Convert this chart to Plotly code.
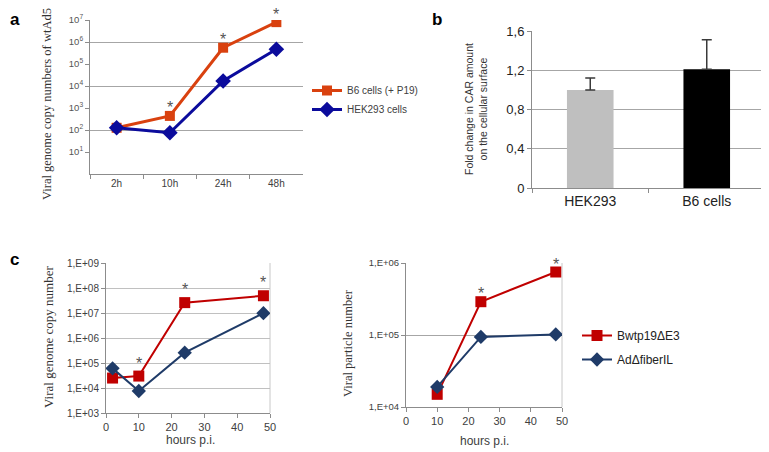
import math
import plotly.graph_objects as go

# ---------------- data ----------------
# panel a
a_times = ["2h", "10h", "24h", "48h"]
a_b6 = [126, 437, 550000, 8000000]
a_hek = [126, 75, 17000, 470000]
a_star = [False, True, True, True]
a_ticks = [10, 100, 1000, 10000, 100000, 1000000, 10000000]
a_ticktext = ["10<sup>1</sup>", "10<sup>2</sup>", "10<sup>3</sup>", "10<sup>4</sup>",
              "10<sup>5</sup>", "10<sup>6</sup>", "10<sup>7</sup>"]

# panel b
b_cats = ["HEK293", "B6 cells"]
b_vals = [1.0, 1.21]
b_err = [0.12, 0.30]
b_ticks = [0, 0.4, 0.8, 1.2, 1.6]
b_ticktext = ["0", "0,4", "0,8", "1,2", "1,6"]

# panel c left
cl_hours = [2, 10, 24, 48]
cl_bwt = [2.5e4, 3.0e4, 2.6e7, 4.9e7]
cl_ad = [6.1e4, 7.6e3, 2.6e5, 9.8e6]
cl_star = [False, True, True, True]
cl_ticks = [1e3, 1e4, 1e5, 1e6, 1e7, 1e8, 1e9]
cl_ticktext = ["1,E+03", "1,E+04", "1,E+05", "1,E+06", "1,E+07", "1,E+08", "1,E+09"]

# panel c right
cr_hours = [10, 24, 48]
cr_bwt = [1.5e4, 2.9e5, 7.5e5]
cr_ad = [1.9e4, 9.4e4, 1.02e5]
cr_star = [False, True, True]
cr_ticks = [1e4, 1e5, 1e6]
cr_ticktext = ["1,E+04", "1,E+05", "1,E+06"]

# ---------------- styling ----------------
W, H = 769, 452
OFF = 8  # page body margin offset
RED_A = "#d9410f"
BLUE_A = "#0b0b9c"
RED_C = "#c00000"
BLUE_C = "#1f3b68"
AX = "#8c8c8c"
GRID = "#a6a6a6"
SANS = "Liberation Sans, Arial"


def px2x(p):
    return (p - OFF) / W


def px2y(p):
    return 1 - (p - OFF) / H


def dx(x0, x1):
    return [px2x(x0), px2x(x1)]


def dy(top, bottom):
    return [px2y(bottom), px2y(top)]


fig = go.Figure()

# panel a traces
fig.add_trace(go.Scatter(x=a_times, y=a_b6, mode="lines+markers", name="B6 cells (+ P19)",
                         line=dict(color=RED_A, width=3),
                         marker=dict(symbol="square", size=10, color=RED_A),
                         xaxis="x", yaxis="y", legend="legend"))
fig.add_trace(go.Scatter(x=a_times, y=a_hek, mode="lines+markers", name="HEK293 cells",
                         line=dict(color=BLUE_A, width=3),
                         marker=dict(symbol="diamond", size=12, color=BLUE_A),
                         xaxis="x", yaxis="y", legend="legend"))

# panel b
fig.add_trace(go.Bar(x=b_cats, y=b_vals, marker=dict(color=["#bfbfbf", "#000000"], line=dict(width=0)),
                     width=0.4, showlegend=False,
                     error_y=dict(type="data", array=b_err, arrayminus=[0] * len(b_err), symmetric=False,
                                  color="#3a3a3a", thickness=1.5, width=5),
                     xaxis="x2", yaxis="y2"))

# panel c left
fig.add_trace(go.Scatter(x=cl_hours, y=cl_bwt, mode="lines+markers", name="Bwtp19ΔE3",
                         line=dict(color=RED_C, width=2),
                         marker=dict(symbol="square", size=11, color=RED_C),
                         xaxis="x3", yaxis="y3", legend="legend2", legendgroup="bwt"))
fig.add_trace(go.Scatter(x=cl_hours, y=cl_ad, mode="lines+markers", name="AdΔfiberIL",
                         line=dict(color=BLUE_C, width=2),
                         marker=dict(symbol="diamond", size=11, color=BLUE_C),
                         xaxis="x3", yaxis="y3", legend="legend2", legendgroup="ad"))
# panel c right
fig.add_trace(go.Scatter(x=cr_hours, y=cr_bwt, mode="lines+markers", name="Bwtp19ΔE3",
                         line=dict(color=RED_C, width=2),
                         marker=dict(symbol="square", size=11, color=RED_C),
                         xaxis="x4", yaxis="y4", showlegend=False))
fig.add_trace(go.Scatter(x=cr_hours, y=cr_ad, mode="lines+markers", name="AdΔfiberIL",
                         line=dict(color=BLUE_C, width=2),
                         marker=dict(symbol="diamond", size=11, color=BLUE_C),
                         xaxis="x4", yaxis="y4", showlegend=False))

annotations = []
STARF = dict(family=SANS, size=16, color="#555555")


def add_stars(xs, ys, flags, xref, yref, shift):
    for x, y, f in zip(xs, ys, flags):
        if f:
            annotations.append(dict(x=x, y=math.log10(y), xref=xref, yref=yref,
                                    text="*", showarrow=False, yshift=shift, font=STARF,
                                    xanchor="center", yanchor="middle"))


add_stars(a_times, a_b6, a_star, "x", "y", 8)
add_stars(cl_hours, cl_bwt, cl_star, "x3", "y3", 13)
add_stars(cr_hours, cr_bwt, cr_star, "x4", "y4", 8)


def paper_text(text, px, py, font, angle=0, xanchor="center", yanchor="middle"):
    annotations.append(dict(x=px2x(px), y=px2y(py), xref="paper", yref="paper", text=text,
                            showarrow=False, font=font, xanchor=xanchor, yanchor=yanchor,
                            textangle=angle))


# panel letters
LET = dict(family=SANS, size=17, color="#000000")
paper_text("<b>a</b>", 8, 8, LET, xanchor="left", yanchor="top")
paper_text("<b>b</b>", 437, 8, LET, yanchor="top")
paper_text("<b>c</b>", 8, 259, LET, xanchor="left")

# axis titles
SERIF = "Liberation Serif, DejaVu Serif, serif"
paper_text("Viral genome copy numbers of wtAd5", 47, 104,
           dict(family=SERIF, size=12.5, color="#333333"), -90)
paper_text("Fold change in CAR amount<br>on the cellular surface", 476, 109,
           dict(family=SANS, size=10.5, color="#333333"), -90)
paper_text("Viral genome copy number", 48, 337,
           dict(family=SERIF, size=13, color="#333333"), -90)
paper_text("Viral particle number", 348, 343,
           dict(family=SERIF, size=12.5, color="#333333"), -90)
HFONT = dict(family=SANS, size=12, color="#404040")
paper_text("hours p.i.", 190, 440, HFONT)
paper_text("hours p.i.", 484, 441, HFONT)

# right borders
shapes = []
for xr, yr, col in [("x2", "y2", "#b0b0b0"), ("x3", "y3", "#c8c8c8"), ("x4", "y4", "#c8c8c8")]:
    shapes.append(dict(type="line", xref=xr + " domain", yref=yr + " domain", x0=1, x1=1, y0=0, y1=1,
                       line=dict(color=col, width=1), layer="below"))

common_line = dict(showline=True, linecolor=AX, linewidth=1, ticks="outside", tickcolor=AX,
                   ticklen=4, zeroline=False, automargin=False)

fig.update_layout(
    template="none",
    width=W, height=H, margin=dict(l=0, r=0, t=0, b=0, pad=0), autosize=False,
    paper_bgcolor="white", plot_bgcolor="white",
    annotations=annotations, shapes=shapes,
    xaxis=dict(domain=dx(90, 303), anchor="y", type="category", range=[-0.5, 3.5],
               tickson="boundaries", showgrid=False, tickfont=dict(family=SANS, size=10, color="#404040"),
               **common_line),
    yaxis=dict(domain=dy(20, 174), anchor="x", type="log", range=[0, 7], tickvals=a_ticks,
               ticktext=a_ticktext, showgrid=False,
               minor=dict(tickvals=[100, 10000, 1000000], showgrid=True, gridcolor=GRID, gridwidth=1, ticks=""),
               tickfont=dict(family=SANS, size=9.5, color="#555555"), **common_line),
    xaxis2=dict(domain=dx(532, 765), anchor="y2", type="category", range=[-0.5, 1.5],
                tickson="boundaries", showgrid=False,
                tickfont=dict(family=SANS, size=14, color="#222222"), **common_line),
    yaxis2=dict(domain=dy(31, 188), anchor="x2", range=[0, 1.6], tickvals=b_ticks, ticktext=b_ticktext,
                showgrid=True, gridcolor=GRID,
                tickfont=dict(family=SANS, size=13, color="#222222"), **common_line),
    xaxis3=dict(domain=dx(106, 270), anchor="y3", range=[0, 50], tickvals=[0, 10, 20, 30, 40, 50],
                showgrid=False, tickfont=dict(family=SANS, size=11, color="#404040"), **common_line),
    yaxis3=dict(domain=dy(263, 413), anchor="x3", type="log", range=[3, 9], tickvals=cl_ticks,
                ticktext=cl_ticktext, showgrid=True, gridcolor="#c0c0c0",
                tickfont=dict(family=SANS, size=10, color="#404040"), **common_line),
    xaxis4=dict(domain=dx(406, 562), anchor="y4", range=[0, 50], tickvals=[0, 10, 20, 30, 40, 50],
                showgrid=False, tickfont=dict(family=SANS, size=11, color="#404040"), **common_line),
    yaxis4=dict(domain=dy(263, 407), anchor="x4", type="log", range=[4, 6], tickvals=cr_ticks,
                ticktext=cr_ticktext, showgrid=True, gridcolor=GRID,
                tickfont=dict(family=SANS, size=9.5, color="#404040"), **common_line),
    showlegend=True,
    legend=dict(x=px2x(307), y=px2y(76), xanchor="left", yanchor="top", bgcolor="rgba(0,0,0,0)",
                font=dict(family=SANS, size=10, color="#404040"),
                itemwidth=30, tracegroupgap=0, traceorder="normal"),
    legend2=dict(x=px2x(577), y=px2y(321), xanchor="left", yanchor="top", bgcolor="rgba(0,0,0,0)",
                 font=dict(family=SANS, size=12, color="#222222"),
                 itemwidth=30, tracegroupgap=5, traceorder="grouped"),
)

fig.write_html("out.html")
